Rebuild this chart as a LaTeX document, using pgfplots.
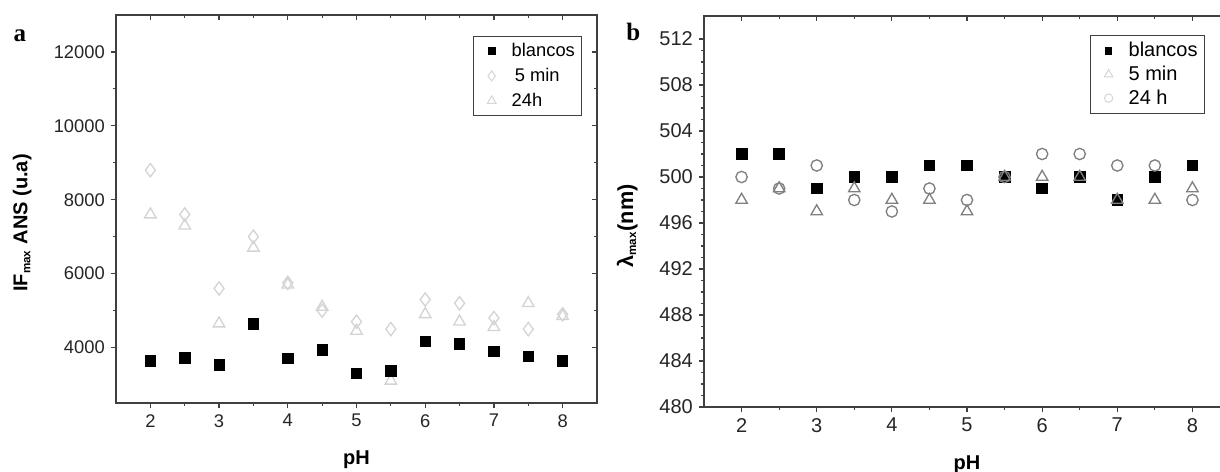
\documentclass[border=0pt]{standalone}
\usepackage{fontspec}
\setmainfont{Liberation Sans}
\newfontfamily\serifb{Liberation Serif}
\usepackage{pgfplots}
\pgfplotsset{compat=1.18}

\definecolor{axc}{gray}{0.25}
\definecolor{faint}{gray}{0.83}
\definecolor{midg}{gray}{0.50}
\definecolor{legfaint}{gray}{0.84}

\pgfplotsset{
  common/.style={
    scale only axis,
    axis line style={axc, line width=0.8pt},
    xmin=1.5, xmax=8.5, xtick={2,...,8}, minor x tick num=1,
    scaled y ticks=false,
    /pgf/number format/assume math mode=true,
    /pgf/number format/1000 sep={},
    major tick length=3.2pt, minor tick length=1.8pt,
    every tick/.style={axc, line width=0.7pt},
    tick label style={text=black!85},
    legend image code/.code={
      \path[draw=none, fill=none] (0pt,-3pt) -- (19pt,3pt);
      \draw[##1] plot coordinates {(9pt,0pt)};
    },
  },
  outerticks/.style={xtick pos=left, ytick pos=left, tick align=outside},
  innerticks/.style={xtick pos=right, ytick pos=right, tick align=inside,
    xticklabels={}, yticklabels={}},
  pa/.style={common, at={(69.6pt,41.4pt)}, anchor=south west,
    width=288.6pt, height=232.8pt,
    ymin=2500, ymax=13000, ytick={4000,6000,8000,10000,12000}, minor y tick num=1,
    tick label style={font=\fontsize{11}{13}\selectfont}},
  pb/.style={common, at={(422.4pt,39pt)}, anchor=south west,
    width=315.6pt, height=234.6pt,
    ymin=480, ymax=514, ytick={480,484,...,512}, minor y tick num=3,
    tick label style={font=\fontsize{12}{14}\selectfont}},
}

\begin{document}
\begin{tikzpicture}
\path[use as bounding box] (0pt,0pt) rectangle (732pt,283.2pt);
\fill[white] (0pt,0pt) rectangle (732pt,283.2pt);

% ---------------- panel a ----------------
\begin{axis}[pa, innerticks]
\end{axis}
\begin{axis}[pa, outerticks,
  xlabel={\textbf{pH}},
  ylabel={\textbf{IF\textsubscript{\scriptsize max} ANS (u.a)}},
  xlabel style={at={(axis description cs:0.5,-0.147)}, anchor=center, font=\fontsize{12}{14}\selectfont},
  ylabel style={at={(axis description cs:-0.195,0.464)}, anchor=center, font=\fontsize{12}{14}\selectfont},
  legend style={at={(0.969,0.946)}, anchor=north east, draw=axc, line width=0.6pt,
    font=\fontsize{11}{13}\selectfont, inner sep=2pt, row sep=1.5pt,
    /tikz/every even column/.append style={column sep=3pt}},
  legend cell align=left,
]
\addlegendimage{only marks, mark=square*, black, mark size=2pt}
\addlegendentry{blancos}
\addlegendimage{only marks, mark=diamond, draw=legfaint, mark size=3pt}
\addlegendentry{\,5 min}
\addlegendimage{only marks, mark=triangle, draw=legfaint, mark size=3pt}
\addlegendentry{24h}

\addplot[forget plot, only marks, mark=diamond, mark size=4pt, draw=faint, line width=0.8pt] coordinates {
 (2,8800) (2.5,7600) (3,5600) (3.5,7000) (4,5750) (4.5,5000) (5,4700)
 (5.5,4500) (6,5300) (6.5,5200) (7,4800) (7.5,4500) (8,4900)};
\addplot[forget plot, only marks, mark=triangle, mark size=4pt, draw=faint, line width=0.8pt] coordinates {
 (2,7600) (2.5,7300) (3,4650) (3.5,6700) (4,5700) (4.5,5100) (5,4450)
 (5.5,3100) (6,4900) (6.5,4700) (7,4550) (7.5,5200) (8,4850)};
\addplot[forget plot, only marks, mark=square*, mark size=3.1pt, black] coordinates {
 (2,3645) (2.5,3718) (3,3536) (3.5,4646) (4,3700) (4.5,3937) (5,3300)
 (5.5,3372) (6,4172) (6.5,4100) (7,3900) (7.5,3755) (8,3645)};
\end{axis}

% ---------------- panel b ----------------
\begin{axis}[pb, innerticks]
\end{axis}
\begin{axis}[pb, outerticks,
  xlabel={\textbf{pH}},
  ylabel={\textbf{λ\textsubscript{\scriptsize max}(nm)}},
  xlabel style={at={(axis description cs:0.5,-0.148)}, anchor=center, font=\fontsize{12}{14}\selectfont},
  ylabel style={at={(axis description cs:-0.146,0.463)}, anchor=center, font=\fontsize{13}{15}\selectfont},
  legend style={at={(0.952,0.951)}, anchor=north east, draw=axc, line width=0.6pt,
    font=\fontsize{12}{14}\selectfont, inner sep=2pt, row sep=0pt,
    /tikz/every even column/.append style={column sep=4pt}},
  legend cell align=left,
]
\addlegendimage{only marks, mark=square*, black, mark size=2pt}
\addlegendentry{blancos}
\addlegendimage{only marks, mark=triangle, draw=legfaint, mark size=3pt}
\addlegendentry{5 min}
\addlegendimage{only marks, mark=o, draw=legfaint, mark size=2.5pt}
\addlegendentry{24 h}

\addplot[forget plot, only marks, mark=square*, mark size=3.2pt, black] coordinates {
 (2,502) (2.5,502) (3,499) (3.5,500) (4,500) (4.5,501) (5,501)
 (5.5,500) (6,499) (6.5,500) (7,498) (7.5,500) (8,501)};
\addplot[forget plot, only marks, mark=o, mark size=3.4pt, draw=midg, line width=0.8pt] coordinates {
 (2,500) (2.5,499) (3,501) (3.5,498) (4,497) (4.5,499) (5,498)
 (5.5,500) (6,502) (6.5,502) (7,501) (7.5,501) (8,498)};
\addplot[forget plot, only marks, mark=triangle, mark size=4pt, draw=midg, line width=0.8pt] coordinates {
 (2,498) (2.5,499) (3,497) (3.5,499) (4,498) (4.5,498) (5,497)
 (5.5,500) (6,500) (6.5,500) (7,498) (7.5,498) (8,499)};
\end{axis}

\node[font=\serifb\bfseries\fontsize{15}{17}\selectfont] at (12pt,262pt) {a};
\node[font=\serifb\bfseries\fontsize{15}{17}\selectfont] at (380pt,264pt) {b};
\end{tikzpicture}
\end{document}
